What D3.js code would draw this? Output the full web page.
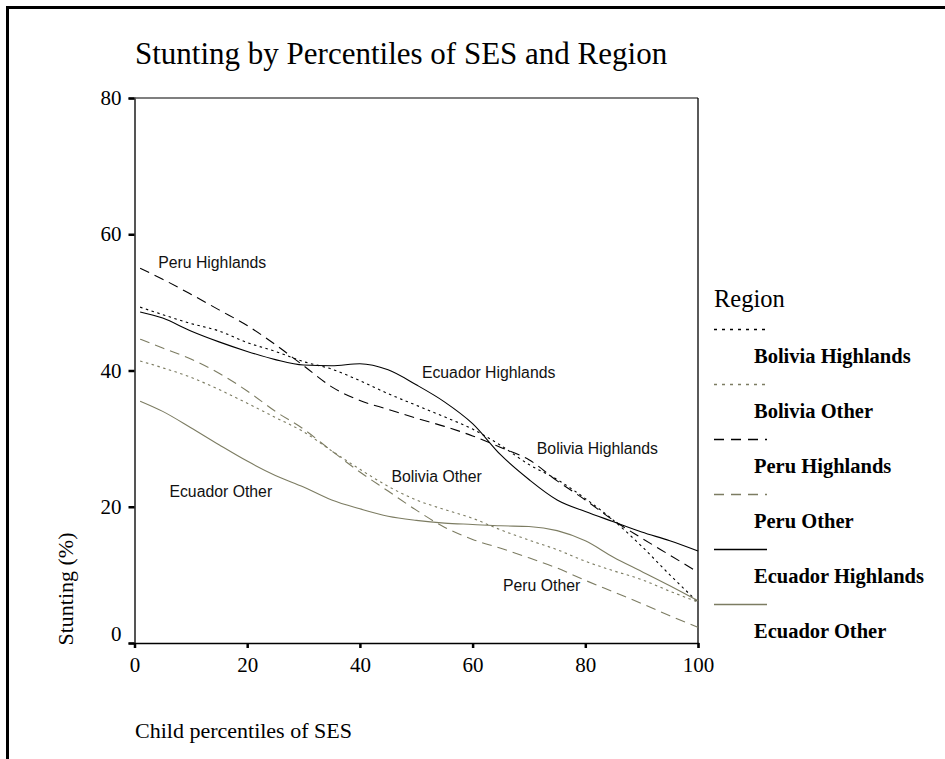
<!DOCTYPE html>
<html>
<head>
<meta charset="utf-8">
<script src="https://cdn.jsdelivr.net/npm/d3@7"></script>
<style>
  html, body { margin: 0; padding: 0; background: #fff; }
  svg { display: block; }
</style>
</head>
<body>
<svg id="chart" width="945" height="759"></svg>
<script>
// Child SES percentile grid shared by all series
const percentiles = [1, 5, 10, 15, 20, 25, 30, 35, 40, 45, 50, 55, 60, 65, 70, 75, 80, 85, 90, 95, 100];

// Stunting (%) by region
const boliviaHighlands = [49.3, 48.2, 46.9, 45.8, 44.1, 42.8, 41.3, 40.2, 38.5, 36.6, 34.9, 33.2, 31.4, 29.0, 26.2, 24.0, 21.2, 18.0, 14.2, 10.0, 6.0];
const boliviaOther     = [41.4, 40.4, 39.0, 37.2, 35.2, 33.1, 31.0, 28.2, 25.5, 23.0, 21.0, 19.6, 18.3, 16.6, 15.1, 13.7, 12.0, 10.6, 9.3, 7.6, 6.0];
const peruHighlands    = [55.0, 53.4, 51.2, 48.9, 46.6, 43.8, 40.7, 37.6, 35.6, 34.3, 33.0, 31.8, 30.4, 28.7, 26.9, 23.8, 21.0, 18.0, 15.4, 12.9, 10.4];
const peruOther        = [44.6, 43.3, 41.7, 39.6, 37.0, 34.0, 31.4, 28.2, 25.1, 22.3, 19.5, 17.0, 15.2, 13.9, 12.5, 11.0, 9.2, 7.5, 5.8, 4.0, 2.3];
const ecuadorHighlands = [48.6, 47.7, 45.8, 44.2, 42.8, 41.6, 40.8, 40.7, 41.0, 40.1, 37.9, 35.4, 32.2, 27.6, 24.0, 21.0, 19.3, 17.8, 16.3, 15.0, 13.5];
const ecuadorOther     = [35.5, 34.0, 31.6, 29.1, 26.7, 24.6, 22.9, 21.0, 19.7, 18.6, 18.0, 17.6, 17.4, 17.2, 17.1, 16.5, 15.0, 12.6, 10.5, 8.4, 6.2];

const regionNames = ["Bolivia Highlands", "Bolivia Other", "Peru Highlands", "Peru Other", "Ecuador Highlands", "Ecuador Other"];
const xTicks = [0, 20, 40, 60, 80, 100];
const yTicks = [0, 20, 40, 60, 80];

// In-plot curve labels: [text, percentile, stunting] (text baseline start)
const curveLabels = [
  ["Peru Highlands", 4.2, 55.0],
  ["Ecuador Highlands", 51.0, 38.9],
  ["Bolivia Highlands", 71.4, 27.7],
  ["Bolivia Other", 45.6, 23.7],
  ["Ecuador Other", 6.2, 21.4],
  ["Peru Other", 65.4, 7.7]
];

const seriesValues = [boliviaHighlands, boliviaOther, peruHighlands, peruOther, ecuadorHighlands, ecuadorOther];
const ink = "#000", olive = "#7c7c62";
const styles = [
  { color: ink,   dash: "2.5,3.5", key: "3,5" },
  { color: olive, dash: "2.5,3.5", key: "3,5" },
  { color: ink,   dash: "10,6",    key: "10,7" },
  { color: olive, dash: "10,6",    key: "10,7" },
  { color: ink,   dash: null,      key: null },
  { color: olive, dash: null,      key: null }
];

const svg = d3.select("#chart");

// outer frame (left and top edges)
svg.append("line").attr("x1", 7.5).attr("x2", 7.5).attr("y1", 6).attr("y2", 759)
  .attr("stroke", "#000").attr("stroke-width", 3);
svg.append("line").attr("x1", 6).attr("x2", 945).attr("y1", 7.5).attr("y2", 7.5)
  .attr("stroke", "#000").attr("stroke-width", 3);

const x = d3.scaleLinear().domain([0, 100]).range([134.5, 698]);
const y = d3.scaleLinear().domain([0, 80]).range([643, 98]);

const serif = "'Liberation Serif', 'Times New Roman', serif";
const sans = "'Liberation Sans', Arial, sans-serif";

// title
svg.append("text").attr("x", 135).attr("y", 63.5)
  .attr("font-family", serif).attr("font-size", 31)
  .text("Stunting by Percentiles of SES and Region");

// plot frame (top and right)
svg.append("line").attr("x1", x(0)).attr("x2", x(100)).attr("y1", y(80)).attr("y2", y(80))
  .attr("stroke", "#000").attr("stroke-width", 1.2);
svg.append("line").attr("x1", x(100)).attr("x2", x(100)).attr("y1", y(80)).attr("y2", y(0))
  .attr("stroke", "#000").attr("stroke-width", 1.3);

// axes
const yAxis = d3.axisLeft(y).tickValues(yTicks).tickSize(6).tickPadding(7).tickFormat(d3.format("d"));
const gy = svg.append("g").attr("transform", `translate(${x(0)},0)`).call(yAxis);
gy.select(".domain").attr("stroke", "#555").attr("stroke-width", 2);
gy.selectAll(".tick line").attr("stroke", "#000").attr("stroke-width", 2.5);
gy.selectAll(".tick text").attr("font-family", serif).attr("font-size", 21)
  .attr("fill", "#000").attr("dy", d => d === 0 ? "-0.12em" : "0.32em");

const xAxis = d3.axisBottom(x).tickValues(xTicks).tickSize(5).tickPadding(9).tickFormat(d3.format("d"));
const gx = svg.append("g").attr("transform", `translate(0,${y(0)})`).call(xAxis);
gx.select(".domain").attr("stroke", "#000").attr("stroke-width", 1.5);
gx.selectAll(".tick line").attr("stroke", "#000").attr("stroke-width", 2.5);
gx.selectAll(".tick text").attr("font-family", serif).attr("font-size", 21)
  .attr("fill", "#000");

// axis titles
svg.append("text").attr("x", 135).attr("y", 737.5)
  .attr("font-family", serif).attr("font-size", 22)
  .text("Child percentiles of SES");
svg.append("text").attr("transform", "translate(73,589) rotate(-90)")
  .attr("text-anchor", "middle")
  .attr("font-family", serif).attr("font-size", 22)
  .text("Stunting (%)");

// curves
const line = d3.line()
  .x((d, i) => x(percentiles[i]))
  .y(d => y(d))
  .curve(d3.curveMonotoneX);

svg.append("g").selectAll("path").data(seriesValues).join("path")
  .attr("d", d => line(d))
  .attr("fill", "none")
  .attr("stroke", (d, i) => styles[i].color)
  .attr("stroke-width", 1.1)
  .attr("stroke-dasharray", (d, i) => styles[i].dash);

// curve labels
svg.append("g").selectAll("text").data(curveLabels).join("text")
  .attr("x", d => x(d[1])).attr("y", d => y(d[2]))
  .attr("font-family", sans).attr("font-size", 15.8)
  .attr("fill", "#111")
  .text(d => d[0]);

// legend
const legend = svg.append("g");
legend.append("text").attr("x", 714).attr("y", 307)
  .attr("font-family", serif).attr("font-size", 24.5).text("Region");
const rowY = i => 329.5 + i * 55;
legend.selectAll("line.key").data(regionNames).join("line")
  .attr("class", "key")
  .attr("x1", 714).attr("x2", 767)
  .attr("y1", (d, i) => rowY(i)).attr("y2", (d, i) => rowY(i))
  .attr("stroke", (d, i) => styles[i].color)
  .attr("stroke-width", 1.3)
  .attr("stroke-dasharray", (d, i) => styles[i].key);
legend.selectAll("text.name").data(regionNames).join("text")
  .attr("class", "name")
  .attr("x", 754).attr("y", (d, i) => rowY(i) + 33)
  .attr("font-family", serif).attr("font-size", 20.5).attr("font-weight", "bold")
  .text(d => d);
</script>
</body>
</html>
